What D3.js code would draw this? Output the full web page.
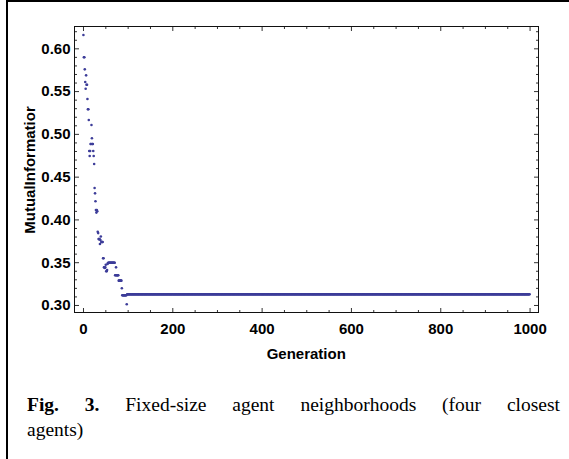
<!DOCTYPE html>
<html>
<head>
<meta charset="utf-8">
<script src="https://cdn.jsdelivr.net/npm/d3@7"></script>
<style>
  html, body { margin: 0; padding: 0; background: #fff; }
  svg { display: block; }
</style>
</head>
<body>
<svg id="chart" width="569" height="459"></svg>
<script>
// Mutual information per generation: a noisy early descent, then a flat plateau.
const earlyValues = [
  0.6155, 0.5895, 0.5895, 0.5754, 0.5606, 0.5528, 0.5684, 0.5575, 0.5575, 0.5407,
  0.5287, 0.5287, 0.5162, 0.4800, 0.4741, 0.4800, 0.4882, 0.4882, 0.5104, 0.4948,
  0.4882, 0.4882, 0.4800, 0.4741, 0.4648, 0.4367, 0.4305, 0.4212, 0.4110, 0.4080,
  0.4110, 0.4095, 0.3855, 0.3840, 0.3770, 0.3770, 0.3770, 0.3713, 0.3760, 0.3800,
  0.3736, 0.3736, 0.3736, 0.3736, 0.3546, 0.3546, 0.3440, 0.3440, 0.3432, 0.3440,
  0.3470, 0.3394, 0.3394, 0.3408, 0.3480, 0.3490,
  0.3494, 0.3494, 0.3494, 0.3494, 0.3494, 0.3494, 0.3494, 0.3494, 0.3494, 0.3494,
  0.3494, 0.3494, 0.3494, 0.3494, 0.3494,
  0.3347, 0.3347, 0.3440, 0.3347, 0.3347, 0.3347, 0.3347, 0.3347,
  0.3284, 0.3284, 0.3284, 0.3284, 0.3284, 0.3284, 0.3284,
  0.3195,
  0.3113, 0.3113, 0.3113, 0.3113, 0.3113, 0.3113, 0.3113, 0.3113, 0.3113, 0.3113,
  0.3008
];
const plateauValue = 0.3125;
const lastGeneration = 1000;

const xMajorTicks = [0, 200, 400, 600, 800, 1000];
const xMinorTicks = [50, 100, 150, 250, 300, 350, 450, 500, 550, 650, 700, 750, 850, 900, 950];
const yMajorTicks = [0.30, 0.35, 0.40, 0.45, 0.50, 0.55, 0.60];
const yMinorTicks = [0.31, 0.32, 0.33, 0.34, 0.36, 0.37, 0.38, 0.39, 0.41, 0.42, 0.43, 0.44,
                     0.46, 0.47, 0.48, 0.49, 0.51, 0.52, 0.53, 0.54, 0.56, 0.57, 0.58, 0.59, 0.61, 0.62];

const xLabel = "Generation";
const yLabel = "MutualInformatior";
const captionBold = ["Fig.", "3."];
const captionLine1 = ["Fixed-size", "agent", "neighborhoods", "(four", "closest"];
const captionLine2 = "agents)";

// Build the point list: one point per generation.
const points = earlyValues.map((v, i) => ({ g: i + 1, v }));
for (let g = earlyValues.length + 1; g <= lastGeneration; g++) points.push({ g, v: plateauValue });

const svg = d3.select("#chart");

// Outer frame of the figure box (top and left edges)
svg.append("line").attr("x1", 7).attr("x2", 569).attr("y1", 1).attr("y2", 1)
  .attr("stroke", "#000").attr("stroke-width", 2);
svg.append("line").attr("x1", 7).attr("x2", 7).attr("y1", 0).attr("y2", 459)
  .attr("stroke", "#000").attr("stroke-width", 2);

const plot = { left: 74.5, right: 538.5, top: 26.5, bottom: 312.5 };

const x = d3.scaleLinear().domain([-19, 1020]).range([plot.left, plot.right]);
const y = d3.scaleLinear().domain([0.2912, 0.6255]).range([plot.bottom, plot.top]);

const font = "'Liberation Sans', Arial, sans-serif";

function styleAxis(g) {
  g.select(".domain").remove();
  g.selectAll(".tick line").attr("stroke", "#333").attr("stroke-width", 1);
  g.selectAll(".tick text").attr("font-family", font).attr("font-size", 15)
    .attr("font-weight", "bold").attr("fill", "#000");
}

// Bottom axis (labelled)
svg.append("g").attr("transform", `translate(0,${plot.bottom})`)
  .call(d3.axisBottom(x).tickValues(xMajorTicks).tickSize(-4.5).tickPadding(10.5).tickFormat(d3.format("d")))
  .call(styleAxis);
svg.append("g").attr("transform", `translate(0,${plot.bottom})`)
  .call(d3.axisBottom(x).tickValues(xMinorTicks).tickSize(-2.5).tickFormat(""))
  .call(styleAxis);
// Top axis (ticks only)
svg.append("g").attr("transform", `translate(0,${plot.top})`)
  .call(d3.axisTop(x).tickValues(xMajorTicks).tickSize(-4.5).tickFormat(""))
  .call(styleAxis);
svg.append("g").attr("transform", `translate(0,${plot.top})`)
  .call(d3.axisTop(x).tickValues(xMinorTicks).tickSize(-2.5).tickFormat(""))
  .call(styleAxis);
// Left axis (labelled)
svg.append("g").attr("transform", `translate(${plot.left},0)`)
  .call(d3.axisLeft(y).tickValues(yMajorTicks).tickSize(-4.5).tickPadding(4).tickFormat(d3.format(".2f")))
  .call(styleAxis);
svg.append("g").attr("transform", `translate(${plot.left},0)`)
  .call(d3.axisLeft(y).tickValues(yMinorTicks).tickSize(-2.5).tickFormat(""))
  .call(styleAxis);
// Right axis (ticks only)
svg.append("g").attr("transform", `translate(${plot.right},0)`)
  .call(d3.axisRight(y).tickValues(yMajorTicks).tickSize(-4.5).tickFormat(""))
  .call(styleAxis);
svg.append("g").attr("transform", `translate(${plot.right},0)`)
  .call(d3.axisRight(y).tickValues(yMinorTicks).tickSize(-2.5).tickFormat(""))
  .call(styleAxis);

// Plot frame
svg.append("rect")
  .attr("x", plot.left).attr("y", plot.top)
  .attr("width", plot.right - plot.left).attr("height", plot.bottom - plot.top)
  .attr("fill", "none").attr("stroke", "#111").attr("stroke-width", 1);

// Data points
svg.append("g").selectAll("circle").data(points).join("circle")
  .attr("cx", d => x(d.g)).attr("cy", d => y(d.v)).attr("r", 1.3)
  .attr("fill", "rgb(61,61,153)");

// Axis titles
svg.append("text").attr("x", (x(0) + x(1000)) / 2).attr("y", 359)
  .attr("text-anchor", "middle").attr("font-family", font).attr("font-size", 15)
  .attr("font-weight", "bold").text(xLabel);
svg.append("text").attr("transform", "translate(35,170) rotate(-90)")
  .attr("text-anchor", "middle").attr("font-family", font).attr("font-size", 15)
  .attr("font-weight", "bold").text(yLabel);

// Caption, first line justified between the margins
const serif = "'Liberation Serif', 'Times New Roman', serif";
const capLeft = 27, capRight = 560, capSize = 19.5;
const line1Words = captionBold.map(w => ({ w, bold: true })).concat(captionLine1.map(w => ({ w, bold: false })));
const nodes = line1Words.map(d => svg.append("text")
  .attr("y", 411).attr("font-family", serif).attr("font-size", capSize)
  .attr("font-weight", d.bold ? "bold" : "normal").text(d.w));
const widths = nodes.map(n => n.node().getComputedTextLength());
const gap = (capRight - capLeft - d3.sum(widths)) / (nodes.length - 1);
let cx = capLeft;
nodes.forEach((n, i) => { n.attr("x", cx); cx += widths[i] + gap; });
svg.append("text").attr("x", capLeft).attr("y", 436)
  .attr("font-family", serif).attr("font-size", capSize).text(captionLine2);
</script>
</body>
</html>
